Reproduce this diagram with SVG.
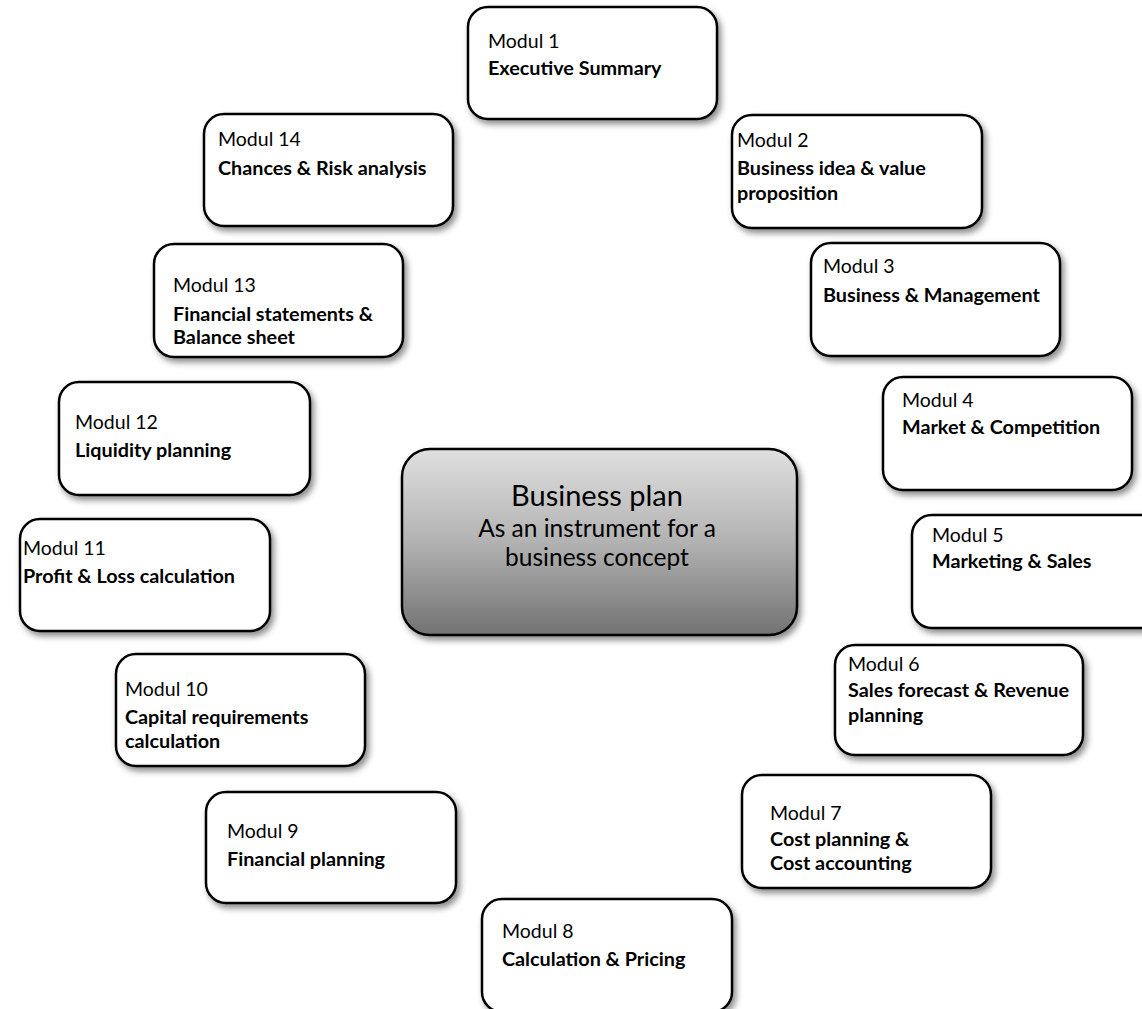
<svg xmlns="http://www.w3.org/2000/svg" width="1142" height="1009" viewBox="0 0 1142 1009">
<defs>
<filter id="sh" x="-10%" y="-10%" width="125%" height="130%">
<feDropShadow dx="3" dy="4" stdDeviation="3" flood-color="#000" flood-opacity="0.45"/>
</filter>
<linearGradient id="cg" x1="0" y1="0" x2="0" y2="1">
<stop offset="0" stop-color="#e0e0e0"/>
<stop offset="0.5" stop-color="#b2b2b2"/>
<stop offset="1" stop-color="#727272"/>
</linearGradient>
</defs>
<style>
.box{fill:#fff;stroke:#000;stroke-width:2.5;filter:url(#sh)}
.ctr{fill:url(#cg);stroke:#000;stroke-width:2.5;filter:url(#sh)}
text{font-family:Lato,"Liberation Sans",sans-serif;fill:#000}
.m{font-size:19.5px}
.b{font-size:19.8px;font-weight:bold}
.c{font-size:24.5px;text-anchor:middle}
.c1{font-size:29px;text-anchor:middle}
</style>
<rect width="1142" height="1009" fill="#fff"/>
<g id="connectors"></g>
<g id="center"><rect class="ctr" x="402" y="449" width="395" height="186" rx="28"/>
<text class="c1" x="597" y="506">Business plan</text>
<text class="c" x="597" y="537">As an instrument for a</text>
<text class="c" x="597" y="566">business concept</text></g>
<g id="m1"><rect class="box" x="468" y="7" width="249" height="112" rx="20"/>
<text class="m" x="488" y="48">Modul 1</text><text class="b" x="488" y="75">Executive Summary</text></g>
<g id="m2"><rect class="box" x="732" y="115" width="250" height="113" rx="20"/>
<text class="m" x="737" y="147">Modul 2</text><text class="b" x="737" y="175">Business idea &amp; value</text><text class="b" x="737" y="200">proposition</text></g>
<g id="m3"><rect class="box" x="811" y="243" width="249" height="113" rx="20"/>
<text class="m" x="823" y="273">Modul 3</text><text class="b" x="823" y="302">Business &amp; Management</text></g>
<g id="m4"><rect class="box" x="883" y="377" width="249" height="113" rx="20"/>
<text class="m" x="902" y="407">Modul 4</text><text class="b" x="902" y="434">Market &amp; Competition</text></g>
<g id="m5"><rect class="box" x="912" y="515" width="250" height="113" rx="20"/>
<text class="m" x="932" y="542">Modul 5</text><text class="b" x="932" y="568">Marketing &amp; Sales</text></g>
<g id="m6"><rect class="box" x="835" y="645" width="248" height="110" rx="20"/>
<text class="m" x="848" y="671">Modul 6</text><text class="b" x="848" y="697">Sales forecast &amp; Revenue</text><text class="b" x="848" y="722">planning</text></g>
<g id="m7"><rect class="box" x="742" y="775" width="249" height="113" rx="20"/>
<text class="m" x="770" y="820">Modul 7</text><text class="b" x="770" y="846">Cost planning &amp;</text><text class="b" x="770" y="870">Cost accounting</text></g>
<g id="m8"><rect class="box" x="482" y="899" width="250" height="113" rx="20"/>
<text class="m" x="502" y="938">Modul 8</text><text class="b" x="502" y="966">Calculation &amp; Pricing</text></g>
<g id="m9"><rect class="box" x="206" y="792" width="250" height="111" rx="20"/>
<text class="m" x="227" y="838">Modul 9</text><text class="b" x="227" y="866">Financial planning</text></g>
<g id="m10"><rect class="box" x="116" y="654" width="249" height="112" rx="20"/>
<text class="m" x="125" y="696">Modul 10</text><text class="b" x="125" y="724">Capital requirements</text><text class="b" x="125" y="748">calculation</text></g>
<g id="m11"><rect class="box" x="20" y="519" width="250" height="112" rx="20"/>
<text class="m" x="23" y="555">Modul 11</text><text class="b" x="23" y="583">Profit &amp; Loss calculation</text></g>
<g id="m12"><rect class="box" x="59" y="382" width="251" height="113" rx="20"/>
<text class="m" x="75" y="429">Modul 12</text><text class="b" x="75" y="457">Liquidity planning</text></g>
<g id="m13"><rect class="box" x="154" y="244" width="249" height="113" rx="20"/>
<text class="m" x="173" y="292">Modul 13</text><text class="b" x="173" y="321">Financial statements &amp;</text><text class="b" x="173" y="344">Balance sheet</text></g>
<g id="m14"><rect class="box" x="204" y="114" width="249" height="112" rx="20"/>
<text class="m" x="218" y="146">Modul 14</text><text class="b" x="218" y="175">Chances &amp; Risk analysis</text></g>
</svg>
